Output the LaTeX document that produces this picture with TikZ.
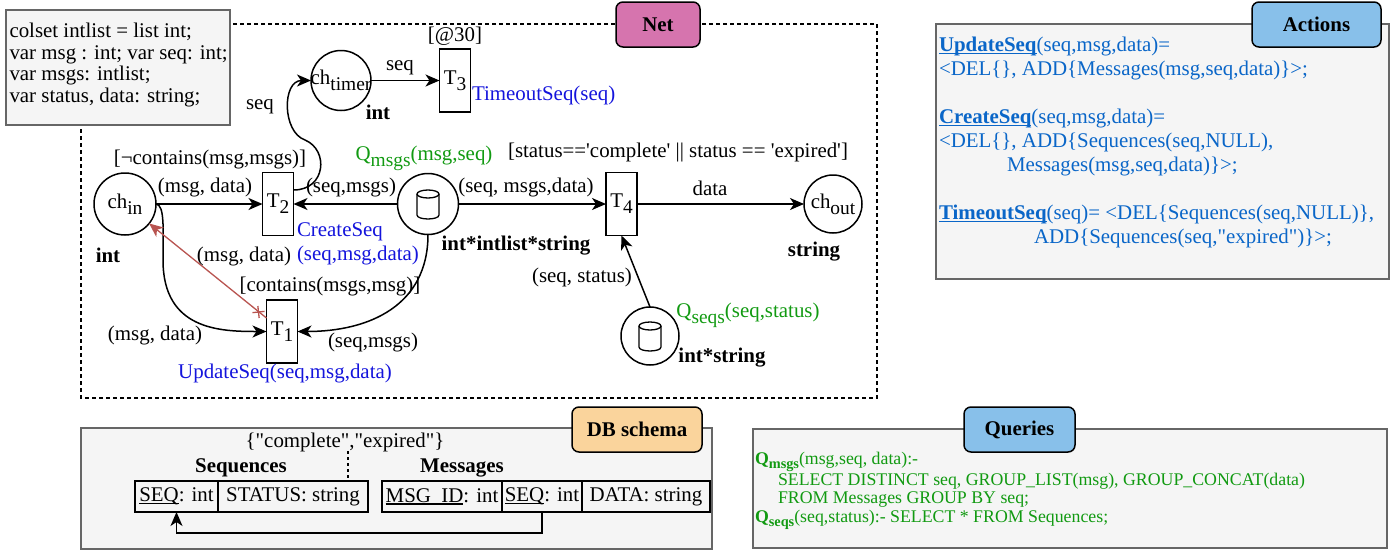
\documentclass[tikz,border=0pt]{standalone}
\usepackage{fontspec}
\setmainfont{Liberation Serif}[Ligatures=TeXOff]
\usetikzlibrary{arrows.meta}
\definecolor{netpink}{HTML}{D674AE}
\definecolor{lblue}{HTML}{88C0EA}
\definecolor{lorange}{HTML}{FAD49C}
\definecolor{boxgray}{HTML}{F5F5F5}
\definecolor{boxline}{HTML}{666666}
\definecolor{tblue}{HTML}{1414DC}
\definecolor{tgreen}{HTML}{119A11}
\definecolor{ablue}{HTML}{0A66C8}
\definecolor{rarrow}{HTML}{B85450}
\newcommand{\nf}{\fontsize{20.9}{21.7}\selectfont}
\newcommand{\sbx}[1]{\raisebox{-0.3em}{\fontsize{19.4}{19.4}\selectfont #1}}
\newcommand{\qsb}[1]{\raisebox{-0.25em}{\fontsize{14.3}{14.3}\selectfont\bfseries #1}}
\newsavebox\ulbox
\newcommand{\ulx}[1]{\sbox\ulbox{#1}\rlap{\rule[-2.6pt]{\wd\ulbox}{1.2pt}}\usebox\ulbox}
\newcommand{\dbcyl}[1]{%
  \draw[line width=1.3pt] ([shift={(-11,-10)}]#1.center) -- ([shift={(-11,11)}]#1.center)
     .. controls ([shift={(-11,16.3)}]#1.center) and ([shift={(11,16.3)}]#1.center) .. ([shift={(11,11)}]#1.center)
     -- ([shift={(11,-10)}]#1.center);
  \draw[line width=1.3pt] ([shift={(0,-10)}]#1.center) ellipse[x radius=11, y radius=4];}
\begin{document}
\begin{tikzpicture}[x=1pt,y=-1pt,
  every node/.style={inner sep=0pt, outer sep=0pt, font=\nf},
  place/.style={circle, draw, line width=1.5pt, minimum size=#1},
  trans/.style={rectangle, draw, line width=1.5pt, minimum width=31pt, minimum height=63pt},
  arr/.style={line width=1.5pt, -{Stealth[length=14pt,width=12pt,inset=4pt]}},
  graybox/.style={draw=boxline, fill=boxgray, line width=1.3pt},
  tag/.style={draw, rounded corners=7pt, line width=1.5pt, font=\nf\bfseries},
  cell/.style={draw, line width=1.5pt, minimum height=31pt},
  bold/.style={font=\nf\bfseries},
]
\useasboundingbox (0,0) rectangle (1400,552);

% Net frame
\draw[dash pattern=on 4pt off 3pt, line width=1.3pt] (81,24) rectangle (877,398);
\node[tag, fill=netpink, minimum width=84pt, minimum height=45pt] (nettag) at (658,24.5) {Net};

% declarations
\draw[graybox] (6,10) rectangle (230,125);
\node[anchor=north west, align=left] (decltxt) at (9.5,23) {colset intlist = list int;\\var msg : int; var seq: int;\\var msgs: intlist;\\var status, data: string;};

% places and transitions
\node[place=62pt] (chin) at (125,204) {\makebox[0pt]{ch\sbx{in}}};
\node[trans] (T2) at (278,204) {T\sbx{2}};
\node[place=61pt] (Qm) at (428,204) {};
\dbcyl{Qm}
\node[trans] (T4) at (621.5,204) {T\sbx{4}};
\node[place=58pt] (chout) at (833,204) {\makebox[0pt]{ch\sbx{out}}};
\node[place=60pt] (chtimer) at (341,80.5) {\makebox[0pt]{ch\sbx{timer}}};
\node[trans] (T3) at (455,80.5) {T\sbx{3}};
\node[trans] (T1) at (282,331.5) {T\sbx{1}};
\node[place=58pt] (Qs) at (650,336) {};
\dbcyl{Qs}

% arcs
\draw[arr] (chin.east) -- (T2.west);
\draw[arr] (Qm.west) -- (T2.east);
\draw[arr] (Qm.east) -- (T4.west);
\draw[arr] (T4.east) -- (chout.west);
\draw[arr] (chtimer.east) -- (T3.west);
\draw[arr] (Qs.north) -- (T4.south);
\draw[arr] ([yshift=14pt]T2.east) .. controls (326,190) and (329,150) .. (305,140) .. controls (282,132) and (282,80.5) .. (chtimer.west);
\draw[arr] (chin.east) .. controls (165,205) and (163,230) .. (163,260) .. controls (163,330) and (220,331.5) .. (T1.west);
\draw[arr] (Qm.south) .. controls (428,305) and (370,331.5) .. (T1.east);
\coordinate (rs) at ([yshift=13.5pt]T1.west);
\draw[line width=1.3pt, draw=rarrow, -{Stealth[length=14pt,width=12pt,inset=4pt]}] (rs) -- (chin);
\draw[line width=1.3pt, draw=rarrow] ([shift={(-8.65,-12)}]rs) -- ([shift={(-7.35,0)}]rs) ([shift={(-14,-5.35)}]rs) -- ([shift={(-2,-6.65)}]rs);

% labels
\node (g2) at (210,160) {[¬contains(msg,msgs)]};
\node (a1) at (205,187) {(msg, data)};
\node (a2) at (351,188) {(seq,msgs)};
\node[text=tgreen] (qml) at (424,158) {Q\sbx{msgs}(msg,seq)};
\node[bold] (qmt) at (516,246) {int*intlist*string};
\node (a3) at (526,188) {(seq, msgs,data)};
\node (g4) at (678,153) {[status=='complete' || status == 'expired']};
\node (a4) at (710,188) {data};
\node[bold] (cot) at (814,252) {string};
\node (a5) at (582,277) {(seq, status)};
\node[text=tgreen] (qsl) at (748,315) {Q\sbx{seqs}(seq,status)};
\node[bold] (qst) at (722,358) {int*string};
\node[bold] (cit) at (108,255) {int};
\node[anchor=east] (a6) at (291,256) {(msg, data)};
\node[anchor=north west, align=left, text=tblue, font=\fontsize{20.9}{24}\selectfont] (cslbl) at (297,223) {CreateSeq\\(seq,msg,data)};
\node (g1) at (330,286) {[contains(msgs,msg)]};
\node (a7) at (155,335) {(msg, data)};
\node (a8) at (373,342) {(seq,msgs)};
\node[text=tblue] (uslbl) at (285,373) {UpdateSeq(seq,msg,data)};
\node (a9) at (260,107) {seq};
\node (a10) at (400,68) {seq};
\node[bold] (ctt) at (378,112) {int};
\node (g3) at (455,36) {[@30]};
\node[anchor=west, text=tblue] (tslbl) at (472,95) {TimeoutSeq(seq)};

% Actions
\draw[graybox] (936,24) rectangle (1389,279);
\node[tag, fill=lblue, minimum width=129pt, minimum height=45pt] (atag) at (1316.5,24.5) {Actions};
\node[anchor=north west, align=left, text=ablue, font=\fontsize{20.9}{24}\selectfont] (acttxt) at (939,37) {\ulx{\textbf{UpdateSeq}}(seq,msg,data)=\\<DEL\{\}, ADD\{Messages(msg,seq,data)\}>;\\[24pt]\ulx{\textbf{CreateSeq}}(seq,msg,data)=\\<DEL\{\}, ADD\{Sequences(seq,NULL),\\\hspace*{68pt}Messages(msg,seq,data)\}>;\\[24pt]\ulx{\textbf{TimeoutSeq}}(seq)= <DEL\{Sequences(seq,NULL)\},\\\hspace*{95pt}ADD\{Sequences(seq,"expired")\}>;};

% DB schema
\draw[graybox] (81,428) rectangle (712,549);
\node[tag, fill=lorange, minimum width=130pt, minimum height=45pt] (dbtag) at (637,429.5) {DB schema};
\node (dom) at (345,442) {\{"complete","expired"\}};
\node[bold] (seqt) at (241,468) {Sequences};
\node[bold] (msgt) at (462,468) {Messages};
\node[cell, minimum width=83pt] (s1) at (176.5,496.5) {\ulx{SEQ}: int};
\node[cell, minimum width=150pt] (s2) at (293,496.5) {STATUS: string};
\node[cell, minimum width=120pt] (m1) at (442,496.5) {\ulx{MSG\_ID}: int};
\node[cell, minimum width=80pt] (m2) at (542,496.5) {\ulx{SEQ}: int};
\node[cell, minimum width=128pt] (m3) at (646,496.5) {DATA: string};
\coordinate (dsh) at (348,481);
\draw[dashed, line width=1.1pt] (dsh |- dom.south) -- (dsh);
\draw[arr] (m2.south) -- ++(0,21) -| (s1.south);

% Queries
\draw[graybox] (753,429) rectangle (1387,548);
\node[tag, fill=lblue, minimum width=111pt, minimum height=45pt] (qtag) at (1019.5,429.5) {Queries};
\node[anchor=north west, align=left, text=tgreen, font=\fontsize{17.8}{18.5}\selectfont] (qtxt) at (755,452) {\textbf{Q\qsb{msgs}}(msg,seq, data):-\\\hspace*{23pt}SELECT DISTINCT seq, GROUP\_LIST(msg), GROUP\_CONCAT(data)\\\hspace*{23pt}FROM Messages GROUP BY seq;\\\textbf{Q\qsb{seqs}}(seq,status):- SELECT * FROM Sequences;};
\end{tikzpicture}
\end{document}
